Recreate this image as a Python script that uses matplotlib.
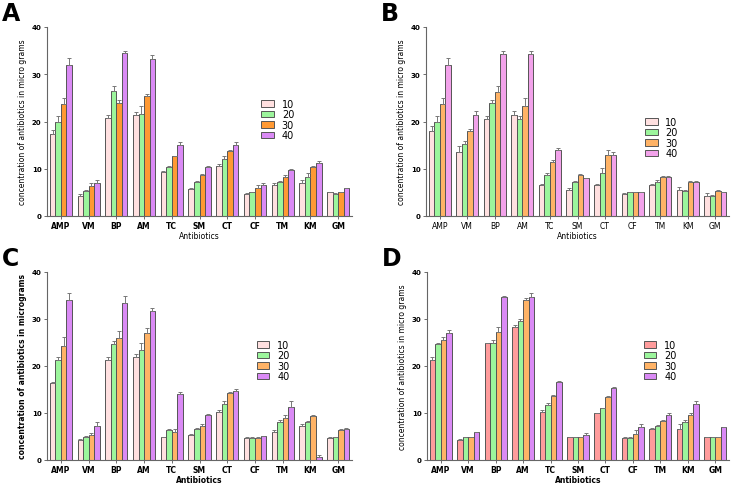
import matplotlib
matplotlib.use("Agg")
import matplotlib.pyplot as plt
import numpy as np

antibiotics = ["AMP", "VM", "BP", "AM", "TC", "SM", "CT", "CF", "TM", "KM", "GM"]
doses = ["10", "20", "30", "40"]

# Panel A means (rows = dose 10,20,30,40)
means_A = [
    [17.3, 4.2, 20.7, 21.3, 9.3, 5.7, 10.6, 4.7, 6.6, 7.0, 5.0],
    [20.0, 5.3, 26.4, 21.5, 10.3, 7.2, 12.0, 5.0, 7.2, 8.3, 4.6],
    [23.6, 6.3, 24.0, 25.3, 12.6, 8.6, 13.7, 5.9, 8.2, 10.3, 5.0],
    [32.0, 7.0, 34.4, 33.3, 15.0, 10.3, 15.0, 6.5, 9.7, 11.3, 5.9],
]
err_A = [
    [0.8, 0.4, 0.6, 0.8, 0.2, 0.2, 0.3, 0.2, 0.3, 0.7, 0.0],
    [1.1, 0.3, 1.2, 1.7, 0.3, 0.3, 0.6, 0.1, 0.3, 0.7, 0.2],
    [1.3, 0.6, 0.5, 0.6, 0.2, 0.2, 0.2, 0.6, 0.5, 0.2, 0.0],
    [1.5, 0.6, 0.6, 0.8, 0.6, 0.2, 0.6, 0.4, 0.2, 0.3, 0.0],
]

means_B = [
    [18.0, 13.6, 20.6, 21.3, 6.6, 5.6, 6.6, 4.6, 6.6, 5.6, 4.3],
    [20.0, 15.3, 24.0, 20.6, 8.6, 7.3, 9.2, 5.0, 7.3, 5.3, 4.3],
    [23.6, 18.0, 26.3, 23.3, 11.5, 8.6, 13.0, 5.0, 8.3, 7.3, 5.2],
    [32.0, 21.3, 34.3, 34.3, 14.0, 8.0, 13.0, 5.0, 8.3, 7.3, 5.0],
]
err_B = [
    [1.0, 1.2, 0.6, 0.9, 0.2, 0.4, 0.2, 0.3, 0.2, 0.6, 0.6],
    [1.2, 0.6, 0.6, 0.6, 0.4, 0.2, 1.0, 0.0, 0.3, 0.3, 0.2],
    [1.4, 0.4, 1.3, 1.7, 0.4, 0.2, 1.0, 0.0, 0.2, 0.1, 0.4],
    [1.5, 0.9, 0.6, 0.6, 0.4, 0.0, 0.6, 0.0, 0.2, 0.1, 0.0],
]

means_C = [
    [16.3, 4.3, 21.3, 22.0, 5.0, 5.3, 10.3, 4.6, 6.0, 7.3, 4.6],
    [21.3, 5.0, 24.6, 23.3, 6.3, 6.6, 12.0, 4.6, 8.0, 8.0, 5.0],
    [24.3, 5.3, 26.0, 27.0, 6.0, 7.3, 14.3, 4.6, 9.0, 9.3, 6.3],
    [34.0, 7.3, 33.3, 31.6, 14.0, 9.6, 14.6, 5.2, 11.3, 0.6, 6.7],
]
err_C = [
    [0.3, 0.2, 0.6, 0.5, 0.0, 0.3, 0.3, 0.2, 0.4, 0.3, 0.4],
    [0.6, 0.2, 0.8, 1.6, 0.3, 0.3, 0.6, 0.2, 0.6, 0.3, 0.0],
    [1.8, 0.4, 1.5, 1.0, 0.5, 0.3, 0.2, 0.2, 0.5, 0.3, 0.3],
    [1.5, 0.7, 1.6, 0.8, 0.5, 0.2, 0.6, 0.0, 1.3, 0.5, 0.2],
]

means_D = [
    [21.3, 4.3, 25.0, 28.3, 10.3, 5.0, 10.0, 4.6, 6.6, 6.6, 5.0],
    [24.6, 5.0, 25.0, 29.6, 11.6, 5.0, 11.0, 4.6, 7.3, 8.0, 5.0],
    [25.6, 5.0, 27.3, 34.0, 13.6, 5.0, 13.3, 5.6, 8.2, 9.6, 5.0],
    [27.0, 6.0, 34.6, 34.6, 16.6, 5.3, 15.3, 7.0, 9.6, 12.0, 7.0],
]
err_D = [
    [0.7, 0.2, 0.0, 0.4, 0.3, 0.0, 0.0, 0.2, 0.3, 1.0, 0.0],
    [0.2, 0.0, 0.6, 0.3, 0.5, 0.0, 0.0, 0.2, 0.2, 0.6, 0.0],
    [0.5, 0.0, 0.9, 0.5, 0.3, 0.0, 0.4, 0.7, 0.3, 0.3, 0.0],
    [0.6, 0.0, 0.3, 0.9, 0.2, 0.4, 0.2, 0.6, 0.3, 0.6, 0.0],
]

colors_A = ["#FFE0E0", "#9CF59C", "#FF9933", "#DA8AF5"]
colors_B = ["#FFE0E0", "#9CF59C", "#FFB366", "#F2A2EA"]
colors_C = ["#FFE0E0", "#9CF59C", "#FFB366", "#DA8AF5"]
colors_D = ["#FF9C9C", "#9CF59C", "#FFB366", "#DA8AF5"]

fig = plt.figure(figsize=(7.31, 4.85), dpi=100)

panels = [
    ("A", means_A, err_A, colors_A, [47/731, 1-217/485, 305/731, 189/485],
     "concentration of antibiotics in micro grams", "normal", "bold", "normal", (0.69, 0.64)),
    ("B", means_B, err_B, colors_B, [426/731, 1-217/485, 303/731, 189/485],
     "concentration of antibiotics in micro grams", "normal", "normal", "normal", (0.71, 0.545)),
    ("C", means_C, err_C, colors_C, [47/731, 1-461/485, 305/731, 188/485],
     "concentration of antibiotics in micrograms", "bold", "bold", "bold", (0.675, 0.66)),
    ("D", means_D, err_D, colors_D, [427/731, 1-461/485, 302/731, 188/485],
     "concentration of antibiotics in micro grams", "normal", "bold", "bold", (0.705, 0.66)),
]

x = np.arange(len(antibiotics))
w = 0.2
for letter, means, errs, cols, rect, ylab, ylw, xtw, xlw, legpos in panels:
    ax = fig.add_axes(rect)
    for i in range(4):
        m = np.array(means[i])
        e = np.array(errs[i])
        ax.bar(x + (i - 1.5) * w, m, w, color=cols[i], edgecolor="#555555",
               linewidth=0.7, label=doses[i],
               yerr=[np.zeros_like(e), e], capsize=1.2,
               error_kw=dict(ecolor="#777777", elinewidth=0.7, capthick=0.7))
    ax.set_xlim(-0.5, len(antibiotics) - 0.5)
    ax.set_ylim(0, 40)
    ax.set_yticks([0, 10, 20, 30, 40])
    ax.set_xticks(x)
    ax.set_xticklabels(antibiotics, fontsize=5.5, fontweight=xtw)
    for lab in ax.get_yticklabels():
        lab.set_fontsize(5)
        lab.set_fontweight("bold")
    ax.tick_params(axis="both", length=2, width=0.6, color="#555555", pad=2)
    ax.tick_params(axis="x", pad=1.5)
    for s in ["top", "right"]:
        ax.spines[s].set_visible(False)
    for s in ["left", "bottom"]:
        ax.spines[s].set_color("#666666")
        ax.spines[s].set_linewidth(0.8)
    ax.set_ylabel(ylab, fontsize=5.5, fontweight=ylw, labelpad=3)
    ax.set_xlabel("Antibiotics", fontsize=5.5, fontweight=xlw, labelpad=1)
    ax.legend(loc="upper left", bbox_to_anchor=legpos, frameon=False,
              fontsize=7, handlelength=1.3, handleheight=0.65,
              labelspacing=0.05, handletextpad=0.8, borderaxespad=0)
    fig.text(rect[0] - 45/731, rect[1] + rect[3] + 2/485, letter,
             fontsize=17, fontweight="bold", ha="left", va="bottom")

fig.savefig("out.png", dpi=100)
